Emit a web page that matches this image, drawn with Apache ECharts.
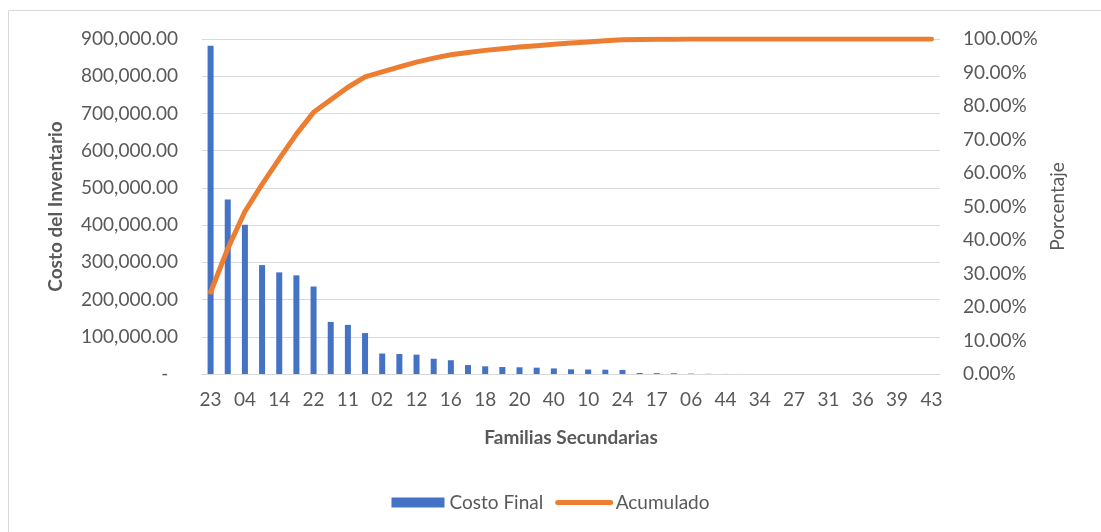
<!DOCTYPE html>
<html>
<head>
<meta charset="utf-8">
<script src="https://cdn.jsdelivr.net/npm/echarts@6/dist/echarts.min.js"></script>
<style>
  html, body { margin: 0; padding: 0; background: #fff; }
  #chart { width: 1101px; height: 532px; }
</style>
</head>
<body>
<div id="chart"></div>
<script>
// familias secundarias, ordenadas por costo
const familias = ['23', '03', '04', '13', '14', '07', '22', '05', '11', '09',
  '02', '15', '12', '08', '16', '21', '18', '19', '20', '01', '40', '26', '10',
  '25', '24', '30', '17', '29', '06', '33', '44', '32', '34', '35', '27', '28',
  '31', '37', '36', '38', '39', '41', '43'];

const costoFinal = [882000, 469000, 401000, 292500, 273000, 265000, 235000,
  140000, 132000, 110000, 55000, 53700, 52000, 41000, 37000, 24000, 20600,
  18800, 18000, 17000, 15000, 12500, 12000, 11500, 11000, 2700, 2300, 2000,
  1000, 500, 200, 100, 50, 0, 0, 0, 0, 0, 0, 0, 0, 0, 0];

const acumulado = [24.4, 37.4, 48.5, 56.6, 64.2, 71.6, 78.1, 81.9, 85.6, 88.7,
  90.2, 91.7, 93.1, 94.3, 95.3, 96.0, 96.6, 97.1, 97.6, 98.0, 98.4, 98.8, 99.1,
  99.5, 99.8, 99.85, 99.9, 99.95, 99.97, 99.99, 100, 100, 100, 100, 100, 100,
  100, 100, 100, 100, 100, 100, 100];

const fontFam = 'Lato, "Open Sans", sans-serif';
const gris = '#595959';

const chart = echarts.init(document.getElementById('chart'));

const option = {
  animation: false,
  textStyle: { fontFamily: fontFam },
  graphic: [{
    type: 'rect',
    shape: { x: 8.5, y: 10.5, width: 1110, height: 540 },
    style: { fill: 'none', stroke: '#d9d9d9', lineWidth: 1 },
    silent: true
  }],
  grid: {
    left: 202,
    right: 161,
    top: 39,
    bottom: 158
  },
  legend: {
    bottom: 15,
    left: 'center',
    itemWidth: 53,
    itemHeight: 10,
    itemGap: 12,
    textStyle: { color: gris, fontSize: 19, fontFamily: fontFam },
    data: [
      { name: 'Costo Final', icon: 'rect' },
      { name: 'Acumulado', itemStyle: { opacity: 0 }, lineStyle: { width: 5, cap: 'round' } }
    ]
  },
  xAxis: {
    type: 'category',
    data: familias,
    name: 'Familias Secundarias',
    nameLocation: 'middle',
    nameGap: 54,
    nameTextStyle: { color: gris, fontSize: 19, fontWeight: 'bold', fontFamily: fontFam },
    axisLine: { lineStyle: { color: '#d9d9d9' } },
    axisTick: { show: false },
    axisLabel: { interval: 1, color: gris, fontSize: 19, margin: 16 }
  },
  yAxis: [{
    type: 'value',
    min: 0,
    max: 900000,
    interval: 100000,
    name: 'Costo del Inventario',
    nameLocation: 'middle',
    nameGap: 137,
    nameTextStyle: { color: gris, fontSize: 19, fontWeight: 'bold', fontFamily: fontFam },
    axisLine: { show: false },
    axisTick: { show: false },
    splitLine: { lineStyle: { color: '#d9d9d9' } },
    axisLabel: {
      color: gris,
      fontSize: 19,
      margin: 24,
      formatter: v => v === 0 ? '-  ' :
        v.toLocaleString('en-US', { minimumFractionDigits: 2, maximumFractionDigits: 2 })
    }
  }, {
    type: 'value',
    min: 0,
    max: 100,
    interval: 10,
    name: 'Porcentaje',
    nameLocation: 'middle',
    nameGap: 108,
    nameTextStyle: { color: gris, fontSize: 19, fontFamily: fontFam },
    axisLine: { show: false },
    axisTick: { show: false },
    splitLine: { show: false },
    axisLabel: {
      color: gris,
      fontSize: 19,
      margin: 23,
      formatter: v => v.toFixed(2) + '%'
    }
  }],
  series: [{
    name: 'Costo Final',
    type: 'bar',
    data: costoFinal,
    barWidth: 6,
    itemStyle: { color: '#4472C4' }
  }, {
    name: 'Acumulado',
    type: 'line',
    yAxisIndex: 1,
    data: acumulado,
    showSymbol: false,
    symbol: 'none',
    lineStyle: { color: '#ED7D31', width: 5, cap: 'round', join: 'round' },
    itemStyle: { color: '#ED7D31' }
  }]
};

chart.setOption(option);
</script>
</body>
</html>
